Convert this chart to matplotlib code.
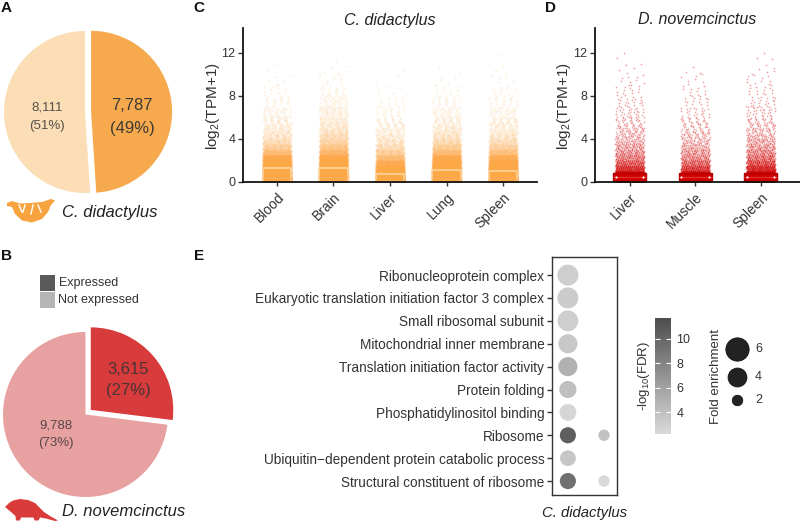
import numpy as np
import matplotlib
matplotlib.use('Agg')
import matplotlib.pyplot as plt
from matplotlib.colors import LinearSegmentedColormap, Normalize
from matplotlib.patches import Polygon, Rectangle
import matplotlib.cm as cm

plt.rcParams['font.family'] = ['Liberation Sans', 'DejaVu Sans']
plt.rcParams['mathtext.fontset'] = 'custom'
plt.rcParams['mathtext.rm'] = 'Liberation Sans'
plt.rcParams['mathtext.it'] = 'Liberation Sans:italic'
plt.rcParams['mathtext.bf'] = 'Liberation Sans:bold'

# ---------------- data ----------------
pie_labels = ['Expressed', 'Not expressed']
cdid_counts = [7787, 8111]
dnov_counts = [3615, 9788]

c_tissues = ['Blood', 'Brain', 'Liver', 'Lung', 'Spleen']
d_tissues = ['Liver', 'Muscle', 'Spleen']
bin_edges = [0, 0.5, 1, 1.5, 2, 2.5, 3, 3.5, 4, 4.5, 5, 5.5, 6, 7, 8, 9, 10, 11, 12]
# estimated number of genes per log2(TPM+1) bin
c_blood = [2600, 1600, 1100, 820, 600, 300, 180, 110, 75, 55, 40, 30, 40, 22, 11, 5, 2, 0]
c_brain = [2400, 1500, 1100, 860, 680, 360, 230, 150, 110, 80, 60, 48, 70, 40, 20, 9, 4, 1]
c_liver = [3000, 1500, 880, 540, 300, 180, 110, 75, 55, 40, 28, 20, 25, 12, 5, 2, 1, 0]
c_lung = [2500, 1550, 1100, 820, 610, 310, 190, 120, 80, 58, 42, 32, 42, 24, 11, 5, 2, 0]
c_spleen = [2600, 1550, 1050, 760, 520, 270, 165, 105, 72, 52, 40, 30, 40, 22, 11, 6, 3, 1]
d_liver = [1400, 500, 250, 160, 110, 85, 65, 50, 40, 32, 25, 20, 30, 20, 14, 9, 5, 2]
d_muscle = [1500, 450, 220, 140, 95, 75, 55, 42, 34, 27, 20, 16, 24, 16, 11, 7, 3, 0]
d_spleen = [1400, 520, 280, 180, 125, 95, 72, 55, 44, 35, 27, 22, 32, 22, 15, 10, 6, 3]
c_box_q3 = [1.3, 1.3, 0.75, 1.1, 1.0]
c_box_med = [0.35, 0.4, 0.15, 0.3, 0.25]
d_box_q3 = [0.85, 0.8, 0.85]
d_box_med = [0.4, 0.4, 0.4]

go_terms = ['Ribonucleoprotein complex',
            'Eukaryotic translation initiation factor 3 complex',
            'Small ribosomal subunit',
            'Mitochondrial inner membrane',
            'Translation initiation factor activity',
            'Protein folding',
            'Phosphatidylinositol binding',
            'Ribosome',
            'Ubiquitin\u2212dependent protein catabolic process',
            'Structural constituent of ribosome']
go_fe_cdid = [4.9, 4.9, 4.8, 4.1, 4.1, 3.4, 3.3, 3.1, 3.0, 3.1]
go_fdr_cdid = [3.0, 3.2, 3.0, 3.4, 5.0, 4.0, 2.5, 10.5, 3.6, 9.3]
go_fe_dnov = [np.nan]*7 + [2.1, np.nan, 2.1]
go_fdr_dnov = [np.nan]*7 + [3.8, np.nan, 2.3]
legend_fe = [6, 4, 2]
cbar_ticks = [4, 6, 8, 10]
fdr_range = (2.2, 11.7)

# ---------------- helpers ----------------
W, H = 800, 521
fig = plt.figure(figsize=(8, 5.21), dpi=100)


def box(l, t, r, b):
    return [l / W, 1 - b / H, (r - l) / W, (b - t) / H]


TXT = '#333333'

# ---------------- pies ----------------
ax_a = fig.add_axes(box(0, 17, 190, 207))
ax_a.pie(cdid_counts, colors=['#F7AA4D', '#FBDDB6'], startangle=90,
         counterclock=False, explode=[0.075, 0], radius=1,
         wedgeprops=dict(linewidth=0))
ax_a.set_xlim(-85 / 81, 105 / 81)
ax_a.set_ylim(-95 / 81, 95 / 81)
ax_a.set_aspect('equal')
ax_a.axis('off')

ax_b = fig.add_axes(box(0, 320, 190, 510))
ax_b.pie(dnov_counts, colors=['#D83B3B', '#E8A1A1'], startangle=90,
         counterclock=False, explode=[0.085, 0], radius=1,
         wedgeprops=dict(linewidth=0))
ax_b.set_xlim(-85.5 / 82.5, 104.5 / 82.5)
ax_b.set_ylim((414.5 - 510) / 82.5, (414.5 - 320) / 82.5)
ax_b.set_aspect('equal')
ax_b.axis('off')


# ---------------- strip plots ----------------
def strip(ax, pos, counts, halfw, color, s, alpha):
    xs, ys = [], []
    for b, n in enumerate(counts):
        lo, hi = bin_edges[b], bin_edges[b + 1]
        k = np.arange(n) + 37 * b + int(pos * 211)
        u = (0.5 + k * 0.7548776662) % 1
        v = (0.5 + k * 0.5698402910) % 1
        xs.append(pos + (2 * u - 1) * halfw)
        ys.append(lo + v * (hi - lo))
    ax.scatter(np.concatenate(xs), np.concatenate(ys), s=s, c=color,
               alpha=alpha, linewidths=0, zorder=2)


def style_axis(ax, labels):
    for sp in ['top', 'right']:
        ax.spines[sp].set_visible(False)
    for sp in ['left', 'bottom']:
        ax.spines[sp].set_linewidth(1.3)
        ax.spines[sp].set_color('#111111')
    ax.set_ylim(-0.02, 14.3)
    ax.set_yticks([0, 4, 8, 12])
    ax.set_xticks(range(len(labels)))
    ax.set_xticklabels(labels, rotation=45, ha='right', va='top',
                       rotation_mode='anchor', fontsize=10, color=TXT)
    ax.tick_params(axis='y', labelsize=9, colors=TXT, length=3.5, width=1, pad=2)
    ax.tick_params(axis='x', length=3, width=1, pad=3, colors=TXT)
    ax.patch.set_alpha(0)


ax_c = fig.add_axes(box(243, 28, 537, 182))
c_series = [c_blood, c_brain, c_liver, c_lung, c_spleen]
for i, cnt in enumerate(c_series):
    strip(ax_c, i, cnt, 0.25, '#FDA846', 2.5, 0.16)
c_stats = [dict(med=m, q1=0, q3=q, whislo=0, whishi=q, fliers=[])
           for m, q in zip(c_box_med, c_box_q3)]
ax_c.bxp(c_stats, positions=range(len(c_tissues)), widths=0.5,
         patch_artist=True, showfliers=False, manage_ticks=False,
         boxprops=dict(facecolor='none', edgecolor='#FDD39A', linewidth=1.2),
         medianprops=dict(color='#FDAD52', linewidth=1),
         whiskerprops=dict(linewidth=0), capprops=dict(linewidth=0))
ax_c.set_xlim(-0.6, 4.6)
style_axis(ax_c, c_tissues)

ax_d = fig.add_axes(box(595, 28, 800, 182))
d_series = [d_liver, d_muscle, d_spleen]
for i, cnt in enumerate(d_series):
    strip(ax_d, i, cnt, 0.22, '#D40000', 1.6, 0.35)
d_stats = [dict(med=m, q1=0, q3=q, whislo=0, whishi=q, fliers=[])
           for m, q in zip(d_box_med, d_box_q3)]
ax_d.bxp(d_stats, positions=range(len(d_tissues)), widths=0.5,
         patch_artist=True, showfliers=False, manage_ticks=False,
         boxprops=dict(facecolor='#CE0000', edgecolor='#B00000', linewidth=1.0),
         medianprops=dict(color='#E03030', linewidth=1),
         whiskerprops=dict(linewidth=0), capprops=dict(linewidth=0))
ax_d.scatter([p + s for p in range(len(d_tissues)) for s in (-0.21, 0.21)],
             [m for m in d_box_med for _ in (0, 1)], s=2.5, c='white',
             linewidths=0, zorder=5)
ax_d.set_xlim(-0.53, 2.6)
style_axis(ax_d, d_tissues)

# ---------------- GO dot plot ----------------
cmap = LinearSegmentedColormap.from_list('greys', ['#DADADA', '#4D4D4D'])
norm = Normalize(*fdr_range)


def fe_to_s(fe):
    fe = np.asarray(fe, dtype=float)
    d = 7.5 + 16.5 * np.sqrt(np.clip((fe - 1.85) / (6.4 - 1.85), 0, 1))
    return (d * 0.72) ** 2


ax_e = fig.add_axes(box(552, 257, 617, 495))
rows = np.arange(len(go_terms))
ax_e.scatter(np.zeros(len(rows)), rows, s=fe_to_s(go_fe_cdid),
             c=go_fdr_cdid, cmap=cmap, norm=norm, linewidths=0, zorder=3)
mask = ~np.isnan(np.array(go_fe_dnov))
ax_e.scatter(np.ones(mask.sum()), rows[mask],
             s=fe_to_s(np.array(go_fe_dnov)[mask]),
             c=np.array(go_fdr_dnov)[mask], cmap=cmap, norm=norm,
             linewidths=0, zorder=3)
ax_e.set_xlim(-0.44, 1.36)
ax_e.set_ylim(9.61, -0.79)
ax_e.set_yticks(rows)
ax_e.set_yticklabels(go_terms, fontsize=9.8, color=TXT)
ax_e.set_xticks([])
ax_e.tick_params(axis='y', length=3.5, width=1, color=TXT, pad=2)
for sp in ax_e.spines.values():
    sp.set_color(TXT)
    sp.set_linewidth(1.0)

cax = fig.add_axes(box(655, 318, 671, 434))
cb = fig.colorbar(cm.ScalarMappable(norm=norm, cmap=cmap), cax=cax,
                  ticks=cbar_ticks)
cb.outline.set_visible(False)
cax.yaxis.set_ticks_position('both')
cax.tick_params(axis='y', direction='in', color='white', length=3.5,
                width=0.8, labelsize=9, labelcolor=TXT, pad=4,
                labelleft=False, labelright=True)
cax.set_ylabel('-log$_{10}$(FDR)', fontsize=9.5, color=TXT, labelpad=2)
cax.yaxis.set_label_position('left')

# ---------------- overlay: texts, legends, silhouettes ----------------
ov = fig.add_axes([0, 0, 1, 1])
ov.set_xlim(0, W)
ov.set_ylim(H, 0)
ov.axis('off')

for lab, x, y in [('A', 6, 8), ('C', 199, 8), ('D', 551, 8),
                  ('B', 6, 256), ('E', 199, 256)]:
    ov.text(x, y, lab, fontsize=11, fontweight='bold', ha='center',
            va='center', color='#111111')


def pct(vals, i):
    return '(%d%%)' % round(100 * vals[i] / sum(vals))


ov.text(132, 105, f'{cdid_counts[0]:,}', fontsize=12, ha='center', va='center', color='#3d3a36')
ov.text(132, 128, pct(cdid_counts, 0), fontsize=12, ha='center', va='center', color='#3d3a36')
ov.text(47, 107, f'{cdid_counts[1]:,}', fontsize=9.5, ha='center', va='center', color='#555049')
ov.text(47, 126, pct(cdid_counts, 1), fontsize=9.5, ha='center', va='center', color='#555049')
ov.text(128, 369, f'{dnov_counts[0]:,}', fontsize=12, ha='center', va='center', color='#4a3434')
ov.text(128, 391, pct(dnov_counts, 0), fontsize=12, ha='center', va='center', color='#4a3434')
ov.text(56, 425, f'{dnov_counts[1]:,}', fontsize=9.5, ha='center', va='center', color='#5a4545')
ov.text(56, 443, pct(dnov_counts, 1), fontsize=9.5, ha='center', va='center', color='#5a4545')

ov.text(62, 212, 'C. didactylus', fontsize=12, style='italic', ha='left', va='center', color='#222222')
ov.text(62, 512, 'D. novemcinctus', fontsize=12, style='italic', ha='left', va='center', color='#222222')
ov.text(390, 20, 'C. didactylus', fontsize=11.5, style='italic', ha='center', va='center', color='#222222')
ov.text(697, 20, 'D. novemcinctus', fontsize=11.5, style='italic', ha='center', va='center', color='#222222')
ov.text(584.5, 513, 'C. didactylus', fontsize=10.7, style='italic', ha='center', va='center', color='#222222')

ov.text(213, 106, 'log$_2$(TPM+1)', fontsize=11, rotation=90, ha='center', va='center', color=TXT)
ov.text(564, 106, 'log$_2$(TPM+1)', fontsize=11, rotation=90, ha='center', va='center', color=TXT)

for (lab, col), y in zip(zip(pie_labels, ['#5a5a5a', '#b6b6b6']), [275, 292]):
    ov.add_patch(Rectangle((40, y), 15, 16, facecolor=col, edgecolor='none'))
    ov.text(58.5, y + 8, lab, fontsize=9, ha='left', va='center', color=TXT)

ov.text(716, 376, 'Fold enrichment', fontsize=9.5, rotation=90, ha='center', va='center', color=TXT)
for fe, y in zip(legend_fe, [349, 377, 400]):
    ov.scatter([737], [y], s=fe_to_s([fe]), c='#222222', linewidths=0.6, edgecolors='#111111')
    ov.text(755, y, str(fe), fontsize=9, ha='left', va='center', color=TXT)

# silhouettes (decorative)
sloth = [(7, 203), (12, 201), (20, 203.5), (30, 203), (42, 202), (51, 199),
         (55, 200.5), (51, 205), (48, 212), (42, 219), (32, 222.5), (22, 220.5),
         (15, 214), (12, 207), (7, 206)]
ov.add_patch(Polygon(sloth, closed=True, facecolor='#F7A33F', edgecolor='none'))
for (x0, y0, x1, y1) in [(19, 205, 22, 212), (25, 205, 23, 212), (33, 205, 31, 214),
                         (38, 205, 41, 212)]:
    ov.plot([x0, x1], [y0, y1], color='white', lw=1.0)
armadillo = [(5, 507), (9, 503), (13, 500.5), (20, 499), (28, 500), (35, 503),
             (40, 508), (44, 512), (50, 516), (58, 520.5), (55, 521), (46, 518.5),
             (40, 517.5), (38.5, 520.5), (34.5, 520.5), (33.5, 517.5), (21, 517.5),
             (20, 520.5), (16, 520.5), (15.5, 516), (11, 512), (8, 509.5)]
ov.add_patch(Polygon(armadillo, closed=True, facecolor='#D93B3B', edgecolor='none'))

fig.savefig('out.png', dpi=100)
